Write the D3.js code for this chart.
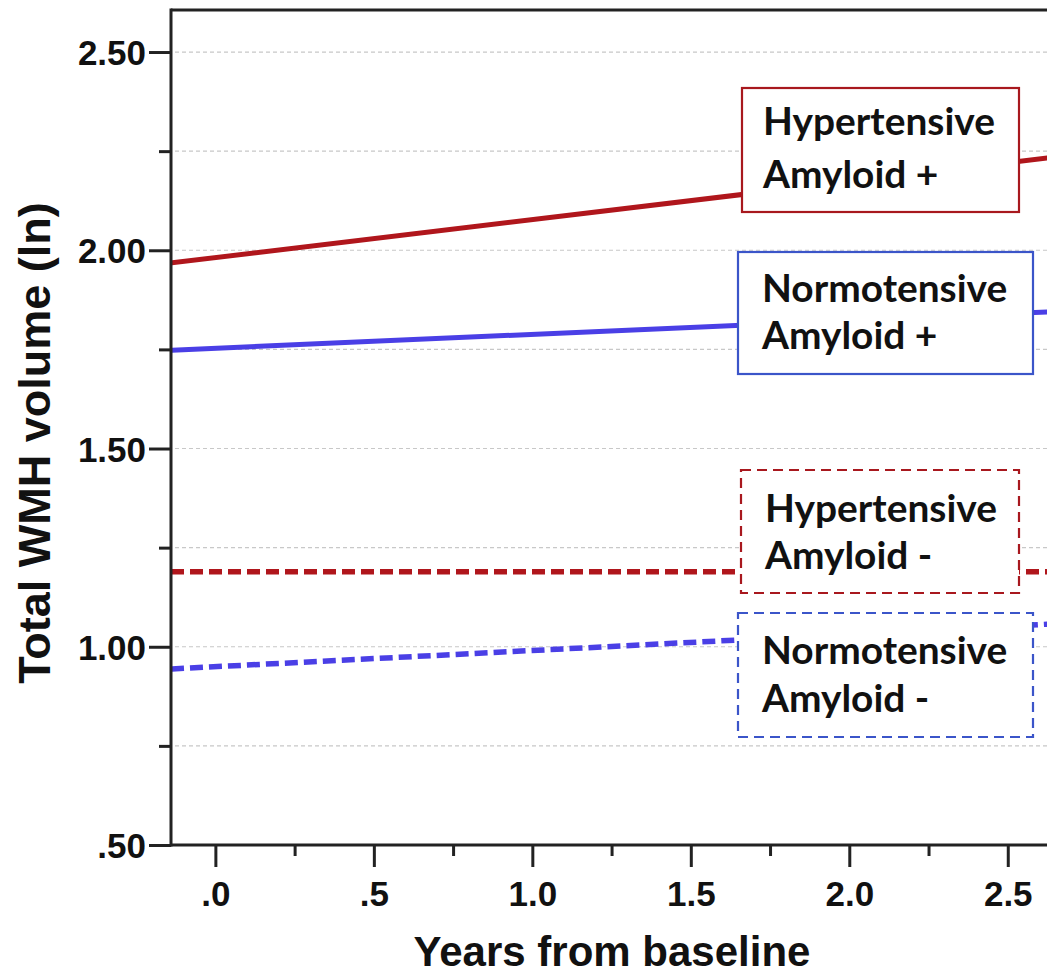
<!DOCTYPE html>
<html>
<head>
<meta charset="utf-8">
<script src="https://cdn.jsdelivr.net/npm/d3@7"></script>
<style>
html,body{margin:0;padding:0;background:#fff;overflow:hidden;}
svg{display:block;}
</style>
</head>
<body>
<svg id="chart" width="1047" height="976"></svg>
<script>
// ---- data ----
const years = [-0.14, 2.75];
const hyperAmyPos = [1.968, 2.245];
const normoAmyPos = [1.748, 1.849];
const hyperAmyNeg = [1.189, 1.189];
const normoAmyNeg = [0.944, 1.062];
const seriesNames = ["Hypertensive Amyloid +", "Normotensive Amyloid +", "Hypertensive Amyloid -", "Normotensive Amyloid -"];
const labelLines = [["Hypertensive", "Amyloid +"], ["Normotensive", "Amyloid +"], ["Hypertensive", "Amyloid -"], ["Normotensive", "Amyloid -"]];
const yTickValues = [0.5, 1.0, 1.5, 2.0, 2.5];
const yTickLabels = [".50", "1.00", "1.50", "2.00", "2.50"];
const yMinorValues = [0.75, 1.25, 1.75, 2.25];
const xTickValues = [0, 0.5, 1.0, 1.5, 2.0, 2.5];
const xTickLabels = [".0", ".5", "1.0", "1.5", "2.0", "2.5"];
const xMinorValues = [0.25, 0.75, 1.25, 1.75, 2.25, 2.75];
const xTitle = "Years from baseline";
const yTitle = "Total WMH volume (ln)";

// ---- layout / style ----
const svg = d3.select("#chart");
const L = 171, T = 10, B = 845, R = 1087;
const x = d3.scaleLinear().domain([-0.14, 2.75]).range([L, R]);
const y = d3.scaleLinear().domain([0.5, 2.606]).range([B, T]);
const RED = "#b0161c", BLUE = "#4a3fe6";
const styles = [
  {color: RED, dash: null, width: 5, boxColor: "#a8181e", boxDash: null},
  {color: BLUE, dash: null, width: 5, boxColor: "#3b55c9", boxDash: null},
  {color: RED, dash: "13,6", width: 5.5, boxColor: "#a8181e", boxDash: "10,6"},
  {color: BLUE, dash: "13,6", width: 5.5, boxColor: "#3b55c9", boxDash: "10,6"}
];
// label boxes (pixel layout)
const boxes = [
  {x0: 742, y0: 88, x1: 1019, y1: 212, tx: 763, b1: 135, b2: 188},
  {x0: 738, y0: 252, x1: 1033, y1: 374, tx: 762, b1: 302, b2: 349},
  {x0: 741, y0: 470, x1: 1019, y1: 593, tx: 765, b1: 522, b2: 569},
  {x0: 738, y0: 613, x1: 1033, y1: 737, tx: 762, b1: 664, b2: 712}
];

svg.append("defs").append("clipPath").attr("id", "plotclip")
  .append("rect").attr("x", L + 1).attr("y", T + 1).attr("width", R - L).attr("height", B - T - 1);

// grid lines
const gridVals = yMinorValues.concat(yTickValues.filter(v => v > 0.5));
svg.append("g").selectAll("line").data(gridVals).join("line")
  .attr("x1", L + 4).attr("x2", 1047)
  .attr("y1", d => y(d)).attr("y2", d => y(d))
  .attr("stroke", "#c8c8c8").attr("stroke-width", 1.2).attr("stroke-dasharray", "4,3");

// series lines
const allSeries = [hyperAmyPos, normoAmyPos, hyperAmyNeg, normoAmyNeg];
const lineGen = d3.line().x(d => x(d[0])).y(d => y(d[1]));
const gLines = svg.append("g").attr("clip-path", "url(#plotclip)");
allSeries.forEach((vals, i) => {
  const pts = years.map((yr, j) => [yr, vals[j]]);
  gLines.append("path").datum(pts)
    .attr("d", lineGen)
    .attr("fill", "none")
    .attr("stroke", styles[i].color)
    .attr("stroke-width", styles[i].width)
    .attr("stroke-dasharray", styles[i].dash);
});

// label boxes
const fontFam = "Lato, 'Open Sans', sans-serif";
boxes.forEach((b, i) => {
  const g = svg.append("g");
  g.append("rect").attr("x", b.x0).attr("y", b.y0)
    .attr("width", b.x1 - b.x0).attr("height", b.y1 - b.y0)
    .attr("fill", "#fff").attr("stroke", styles[i].boxColor)
    .attr("stroke-width", 2.2).attr("stroke-dasharray", styles[i].boxDash);
  [b.b1, b.b2].forEach((bl, k) => {
    g.append("text").attr("class", "boxtxt").attr("x", b.tx).attr("y", bl)
      .attr("font-family", fontFam).attr("font-weight", "bold")
      .attr("font-size", 32).attr("fill", "#111")
      .text(labelLines[i][k]);
  });
});
// fit font size so "Hypertensive" width ~ 232px
const probe = svg.selectAll("text.boxtxt").filter(function(){ return this.textContent === "Hypertensive"; }).node();
if (probe) {
  const w = probe.getComputedTextLength();
  const fs = 32 * 232 / w;
  svg.selectAll("text.boxtxt").attr("font-size", fs);
}

// axes
const axisColor = "#222";
const axisFont = "'Liberation Sans', Arial, sans-serif";
// frame: left axis + top border
svg.append("line").attr("x1", L).attr("x2", L).attr("y1", T - 1.5).attr("y2", B + 1.5)
  .attr("stroke", axisColor).attr("stroke-width", 3);
svg.append("line").attr("x1", L).attr("x2", 1047).attr("y1", T).attr("y2", T)
  .attr("stroke", axisColor).attr("stroke-width", 3);

// y axis ticks
const yAxisMajor = d3.axisLeft(y).tickValues(yTickValues).tickSize(22).tickPadding(3)
  .tickFormat((d, i) => yTickLabels[i]);
const gy = svg.append("g").attr("transform", `translate(${L},0)`).call(yAxisMajor);
gy.select(".domain").remove();
gy.selectAll(".tick line").attr("stroke", axisColor).attr("stroke-width", 3);
gy.selectAll(".tick text").attr("font-family", axisFont).attr("font-weight", "bold")
  .attr("font-size", 35).attr("fill", "#111").attr("dy", "0.36em");
const gyMinor = svg.append("g").attr("transform", `translate(${L},0)`)
  .call(d3.axisLeft(y).tickValues(yMinorValues).tickSize(12).tickFormat(""));
gyMinor.select(".domain").remove();
gyMinor.selectAll(".tick line").attr("stroke", axisColor).attr("stroke-width", 3);

// x axis
svg.append("line").attr("x1", L).attr("x2", 1047).attr("y1", B).attr("y2", B)
  .attr("stroke", axisColor).attr("stroke-width", 3);
const gx = svg.append("g").attr("transform", `translate(0,${B})`)
  .call(d3.axisBottom(x).tickValues(xTickValues).tickSize(22).tickPadding(14)
    .tickFormat((d, i) => xTickLabels[i]));
gx.select(".domain").remove();
gx.selectAll(".tick line").attr("stroke", axisColor).attr("stroke-width", 3);
gx.selectAll(".tick text").attr("font-family", axisFont).attr("font-weight", "bold")
  .attr("font-size", 35).attr("fill", "#111");
const gxMinor = svg.append("g").attr("transform", `translate(0,${B})`)
  .call(d3.axisBottom(x).tickValues(xMinorValues).tickSize(11).tickFormat(""));
gxMinor.select(".domain").remove();
gxMinor.selectAll(".tick line").attr("stroke", axisColor).attr("stroke-width", 3);

// titles
svg.append("text").attr("x", 612).attr("y", 966).attr("text-anchor", "middle")
  .attr("font-family", axisFont).attr("font-weight", "bold").attr("font-size", 42)
  .attr("fill", "#111").text(xTitle);
svg.append("text").attr("transform", "translate(50,443) rotate(-90)").attr("text-anchor", "middle")
  .attr("font-family", axisFont).attr("font-weight", "bold").attr("font-size", 45)
  .attr("fill", "#111").text(yTitle);
</script>
</body>
</html>
